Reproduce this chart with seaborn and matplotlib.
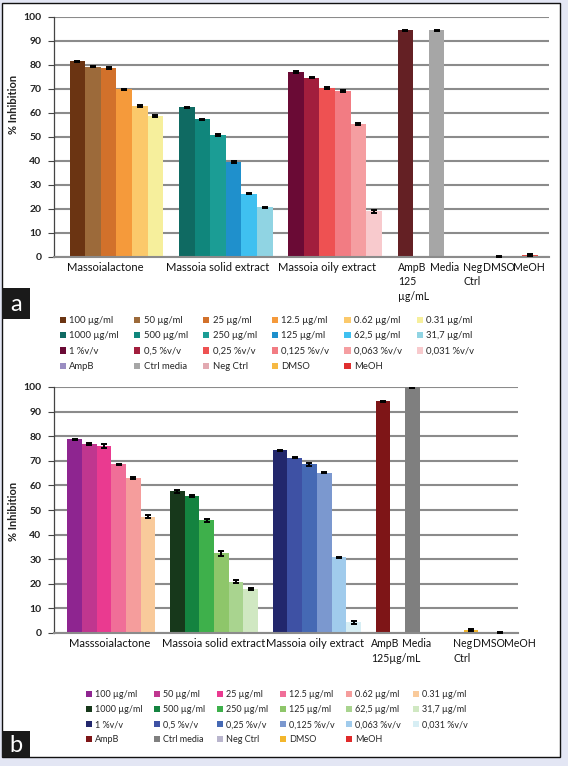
import numpy as np
import pandas as pd
import matplotlib
matplotlib.use("Agg")
import matplotlib.pyplot as plt
import matplotlib.transforms as mtrans
import seaborn as sns
from matplotlib.patches import Rectangle, Patch

W, H = 568, 766

# ---------------- data ----------------
categories_a = ["Massoialactone", "Massoia solid extract", "Massoia oily extract",
                "AmpB\n125\nµg/mL", "Media", "Neg\nCtrl", "DMSO", "MeOH"]
categories_b = ["Masssoialactone", "Massoia solid extract", "Massoia oily extract",
                "AmpB\n125µg/mL", "Media", "Neg\nCtrl", "DMSO", "MeOH"]

# panel a
lactone_a = [81.5, 79.3, 78.8, 69.8, 62.9, 58.6]
lactone_a_err = [0.3, 0.3, 0.4, 0.3, 0.3, 0.4]
solid_a = [62.3, 57.3, 50.8, 39.6, 26.4, 20.8]
solid_a_err = [0.3, 0.2, 0.4, 0.4, 0.3, 0.2]
oily_a = [77.0, 74.7, 70.5, 69.2, 55.3, 19.0]
oily_a_err = [0.4, 0.3, 0.4, 0.4, 0.4, 0.5]
controls_a = [94.4, 94.4, 0.0, 0.3, 0.9]
controls_a_err = [0.3, 0.3, 0.0, 0.2, 0.5]

# panel b
lactone_b = [78.7, 77.0, 76.1, 68.5, 63.1, 47.3]
lactone_b_err = [0.3, 0.4, 0.9, 0.4, 0.3, 0.7]
solid_b = [57.6, 55.6, 45.8, 32.4, 20.9, 17.9]
solid_b_err = [0.6, 0.3, 0.5, 1.0, 0.5, 0.3]
oily_b = [74.2, 71.3, 68.5, 65.2, 30.7, 4.3]
oily_b_err = [0.3, 0.2, 0.8, 0.3, 0.3, 0.5]
controls_b = [94.2, 100.0, 0.0, 1.4, 0.2]
controls_b_err = [0.3, 0.3, 0.0, 0.4, 0.3]

legend_labels = [
    "100 µg/ml", "50 µg/ml", "25 µg/ml", "12.5 µg/ml", "0.62 µg/ml", "0.31 µg/ml",
    "1000 µg/ml", "500 µg/ml", "250 µg/ml", "125 µg/ml", "62,5 µg/ml", "31,7 µg/ml",
    "1 %v/v", "0,5 %v/v", "0,25 %v/v", "0,125 %v/v", "0,063 %v/v", "0,031 %v/v",
    "AmpB", "Ctrl media", "Neg Ctrl", "DMSO", "MeOH"]

# ---------------- styles ----------------
cols_a_groups = [
    ["#6b3412", "#9c6a3a", "#d2712b", "#f59a3b", "#fbc96b", "#f6ef9c"],
    ["#0f6a62", "#10867c", "#1b9d95", "#1f90cc", "#3fc0f0", "#90d4e3"],
    ["#6a0a35", "#a21e3d", "#ee5152", "#f27c83", "#f59ea1", "#f8cacd"],
]
cols_a_ctrl_bars = ["#642024", "#a6a6a6", "#e2a9b1", "#e6c07a", "#e04a40"]
cols_a_ctrl_leg = ["#9a8dc2", "#a6a6a6", "#e2a9b1", "#f6b943", "#e02f2f"]

cols_b_groups = [
    ["#8e2590", "#c0368f", "#ea3a90", "#f06e98", "#f59d9c", "#f9ca9b"],
    ["#17381b", "#148340", "#3eb04b", "#8ec66a", "#a9d48f", "#d0e8c2"],
    ["#22276c", "#3e51a4", "#4569b4", "#7b98cf", "#a0cbec", "#d7eef4"],
]
cols_b_ctrl_bars = ["#7e1517", "#7f7f7f", "#b9b5cd", "#f3b62c", "#e02a2a"]
cols_b_ctrl_leg = ["#7e1517", "#7f7f7f", "#b9b5cd", "#f3b62c", "#e02a2a"]

sns.set_theme(style="white")
plt.rcParams["font.family"] = ["Lato", "DejaVu Sans"]

fig = plt.figure(figsize=(W / 100, H / 100), dpi=100)
fig.patch.set_facecolor("#e3e6f4")
fig.patches.append(Rectangle((2 / W, 1 - 757 / H), (560 - 2) / W, (757 - 3) / H,
                             transform=fig.transFigure, facecolor="white",
                             edgecolor="#111111", lw=1.0, zorder=-5))


def px_axes(left, right, top, bottom):
    ax = fig.add_axes([left / W, 1 - bottom / H, (right - left) / W, (bottom - top) / H])
    ax.set_zorder(1)
    return ax


def draw_panel(ax, groups, group_errs, group_cols, ctrl, ctrl_err, ctrl_cols,
               xlim, labels, label_pos):
    rows = []
    for g, (vals, errs, cols) in enumerate(zip(groups, group_errs, group_cols)):
        for i, (v, e, c) in enumerate(zip(vals, errs, cols)):
            rows.append(dict(slot=1 + 7 * g + i + 0.5, value=v, err=e, color=c,
                             id=f"g{g}_{i}"))
    for k, (v, e, c) in enumerate(zip(ctrl, ctrl_err, ctrl_cols)):
        rows.append(dict(slot=22 + 2 * k + 0.5, value=v, err=e, color=c, id=f"c{k}"))
    df = pd.DataFrame(rows)
    sns.barplot(data=df, x="slot", y="value", hue="id", palette=list(df["color"]),
                native_scale=True, width=1.0, dodge=False, errorbar=None,
                legend=False, linewidth=0, saturation=1, ax=ax)
    m = df["err"] > 0
    ax.errorbar(df.loc[m, "slot"], df.loc[m, "value"], yerr=df.loc[m, "err"], fmt="none",
                ecolor="black", elinewidth=1.4, capsize=2.2, capthick=1.4, zorder=5)
    ax.set_xlim(*xlim)
    ax.set_ylim(0, 100)
    ax.set_yticks(np.arange(0, 101, 10))
    ax.yaxis.grid(True, color="#8b8b8b", lw=1.5)
    ax.xaxis.grid(False)
    ax.set_axisbelow(True)
    for s in ["top", "right"]:
        ax.spines[s].set_visible(False)
    ax.spines["bottom"].set_color("#8b8b8b")
    ax.spines["bottom"].set_linewidth(1.5)
    ax.spines["left"].set_color("#444444")
    ax.spines["left"].set_linewidth(0.9)
    ax.tick_params(axis="y", which="both", left=True, length=4, width=0.8,
                   color="#444444", labelsize=7.5, labelcolor="#222222", pad=5)
    ax.set_xticks([])
    ax.set_xlabel("")
    ax.set_ylabel("")
    for t in ax.get_yticklabels():
        t.set_fontweight("bold")
    ax.set_facecolor("none")
    # category labels, one text per line
    tr = mtrans.blended_transform_factory(ax.transData, ax.transAxes)
    hpx = ax.get_position().height * H
    for lab, (xpos, ha, fs) in zip(labels, label_pos):
        for j, line in enumerate(lab.split("\n")):
            ax.text(xpos, -(5 + j * 14.5) / hpx, line, transform=tr,
                    ha=ha, va="top", fontsize=fs, color="#111111")


ax_a = px_axes(54, 549, 17, 257)
draw_panel(ax_a, [lactone_a, solid_a, oily_a], [lactone_a_err, solid_a_err, oily_a_err],
           cols_a_groups, controls_a, controls_a_err, cols_a_ctrl_bars,
           (0, 31.7), categories_a,
           [(3.3, "center", 8), (10.5, "center", 8), (17.5, "center", 8),
            (22.05, "left", 7.6), (24.1, "left", 7.6), (26.2, "left", 7.6),
            (27.45, "left", 7.6), (29.4, "left", 7.6)])

ax_b = px_axes(54, 518, 387, 633)
draw_panel(ax_b, [lactone_b, solid_b, oily_b], [lactone_b_err, solid_b_err, oily_b_err],
           cols_b_groups, controls_b, controls_b_err, cols_b_ctrl_bars,
           (0.1, 31.7), categories_b,
           [(3.9, "center", 8), (11.0, "center", 8), (17.9, "center", 8),
            (21.7, "left", 7.6), (23.8, "left", 7.6), (27.3, "left", 7.6),
            (28.65, "left", 7.6), (30.75, "left", 7.6)])

# y labels
fig.text(14 / W, 1 - 104 / H, "% Inhibition", rotation=90, ha="center", va="center",
         fontsize=8, fontweight="bold", color="#222222")
fig.text(14 / W, 1 - 511 / H, "% Inhibition", rotation=90, ha="center", va="center",
         fontsize=8, fontweight="bold", color="#222222")


def row_major(items, ncol):
    out = []
    for j in range(ncol):
        out.extend(items[j::ncol])
    return out


def add_legend(group_cols, ctrl_cols, x, y, fs, colsp, labsp):
    colors = [c for g in group_cols for c in g] + list(ctrl_cols)
    handles = [Patch(facecolor=c, edgecolor="none") for c in colors]
    hs = row_major(handles, 6)
    ls = row_major(legend_labels, 6)
    fig.legend(hs, ls, ncol=6, loc="upper left", bbox_to_anchor=(x / W, 1 - y / H),
               frameon=False, fontsize=fs, handlelength=0.65, handleheight=0.65,
               handletextpad=0.35, columnspacing=colsp, labelspacing=labsp,
               borderaxespad=0, borderpad=0)


add_legend(cols_a_groups, cols_a_ctrl_leg, 60, 316, 6.8, 1.6, 0.68)
add_legend(cols_b_groups, cols_b_ctrl_leg, 86, 690, 6.5, 1.3, 0.68)

# panel letters
for (x0, y0, x1, y1, s) in [(2, 288, 30, 319, "a"), (2, 731, 30, 757, "b")]:
    fig.patches.append(Rectangle((x0 / W, 1 - y1 / H), (x1 - x0) / W, (y1 - y0) / H,
                                 transform=fig.transFigure, facecolor="#1a1a1a",
                                 edgecolor="none", zorder=3))
    fig.text((x0 + x1) / 2 / W, 1 - ((y0 + y1) / 2 + 1) / H, s, color="white",
             ha="center", va="center", fontsize=17, zorder=4)

fig.savefig("out.png", dpi=100, facecolor=fig.get_facecolor())
